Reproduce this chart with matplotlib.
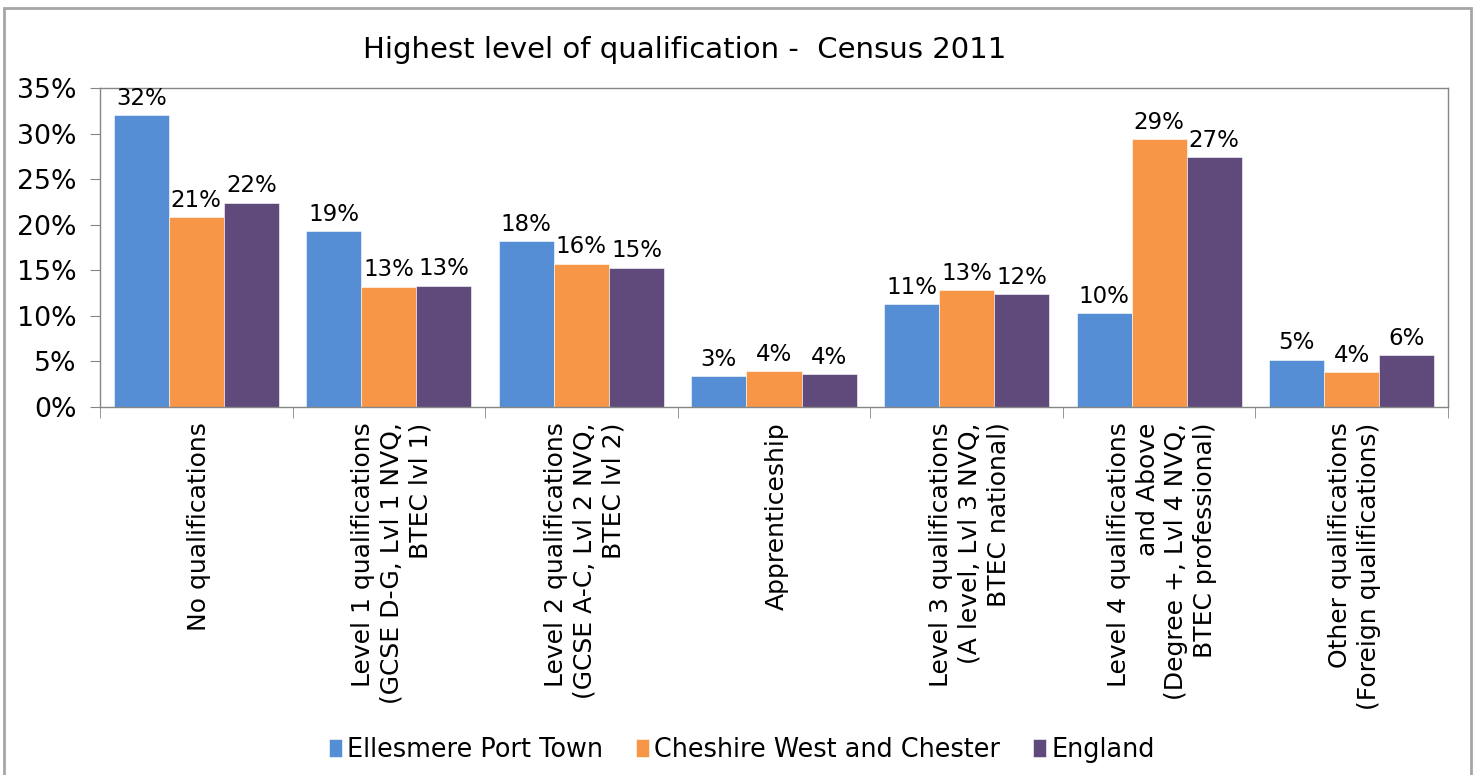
import matplotlib
matplotlib.use("Agg")
import matplotlib.pyplot as plt
import numpy as np
from matplotlib.patches import Rectangle

# Data (percent)
categories = [
    "No qualifications",
    "Level 1 qualifications\n(GCSE D-G, Lvl 1 NVQ,\nBTEC lvl 1)",
    "Level 2 qualifications\n(GCSE A-C, Lvl 2 NVQ,\nBTEC lvl 2)",
    "Apprenticeship",
    "Level 3 qualifications\n(A level, Lvl 3 NVQ,\nBTEC national)",
    "Level 4 qualifications\nand Above\n(Degree +, Lvl 4 NVQ,\nBTEC professional)",
    "Other qualifications\n(Foreign qualifications)",
]
series_names = ["Ellesmere Port Town", "Cheshire West and Chester", "England"]
ellesmere = [32.0, 19.3, 18.2, 3.4, 11.3, 10.3, 5.2]
cheshire = [20.8, 13.2, 15.7, 3.9, 12.8, 29.4, 3.8]
england = [22.4, 13.3, 15.3, 3.6, 12.4, 27.4, 5.7]
colors = ["#558ED5", "#F79646", "#604A7B"]

plt.rcParams['font.family'] = ['DejaVu Sans']

fig = plt.figure(figsize=(14.75, 7.75), dpi=100)
ax = fig.add_axes([100 / 1475, 1 - 407 / 775, 1348 / 1475, 319 / 775])

# outer chart border
fig.patches.append(Rectangle((4 / 1475, -0.05), 1467 / 1475, 1.05 - 8 / 775,
                             transform=fig.transFigure, fill=False,
                             edgecolor="#A6A6A6", linewidth=2))

x = np.arange(len(categories))
w = 0.286
for i, (vals, name) in enumerate(zip([ellesmere, cheshire, england], series_names)):
    bars = ax.bar(x + (i - 1) * w, vals, width=w, color=colors[i], label=name,
                  edgecolor="white", linewidth=0.4)
    for b, v in zip(bars, vals):
        ax.text(b.get_x() + b.get_width() / 2, v + 0.6, f"{round(v):.0f}%",
                ha="center", va="bottom", fontsize=16.5)

ax.set_xlim(-0.5, len(categories) - 0.5)
ax.set_ylim(0, 35)
ax.set_yticks(np.arange(0, 36, 5))
ax.set_yticklabels([f"{t}%" for t in range(0, 36, 5)], fontsize=19.3)
ax.tick_params(axis="y", length=7, color="#868686", pad=10)

ax.set_xticks(x)
ax.set_xticklabels([])
ax.tick_params(axis="x", which="major", length=0)
ax.set_xticks(np.arange(-0.5, len(categories), 1), minor=True)
ax.tick_params(axis="x", which="minor", length=8, color="#868686")

for c, lab in zip(x, categories):
    ax.text(c + 0.015, -1.7, lab, rotation=90, ha="center", va="top",
            multialignment="right", fontsize=18,
            transform=ax.transData, linespacing=1.25)

for s in ax.spines.values():
    s.set_color("#868686")
    s.set_linewidth(1)

fig.text(0.464, 1 - 50 / 775, "Highest level of qualification -  Census 2011",
         ha="center", va="center", fontsize=21)

fig.legend(loc="center", bbox_to_anchor=(0.503, 1 - 750 / 775), ncol=3,
           frameon=False, fontsize=18.4, handlelength=0.5, handleheight=0.75,
           handletextpad=0.2, columnspacing=1.3)

fig.savefig("out.png", dpi=100)
